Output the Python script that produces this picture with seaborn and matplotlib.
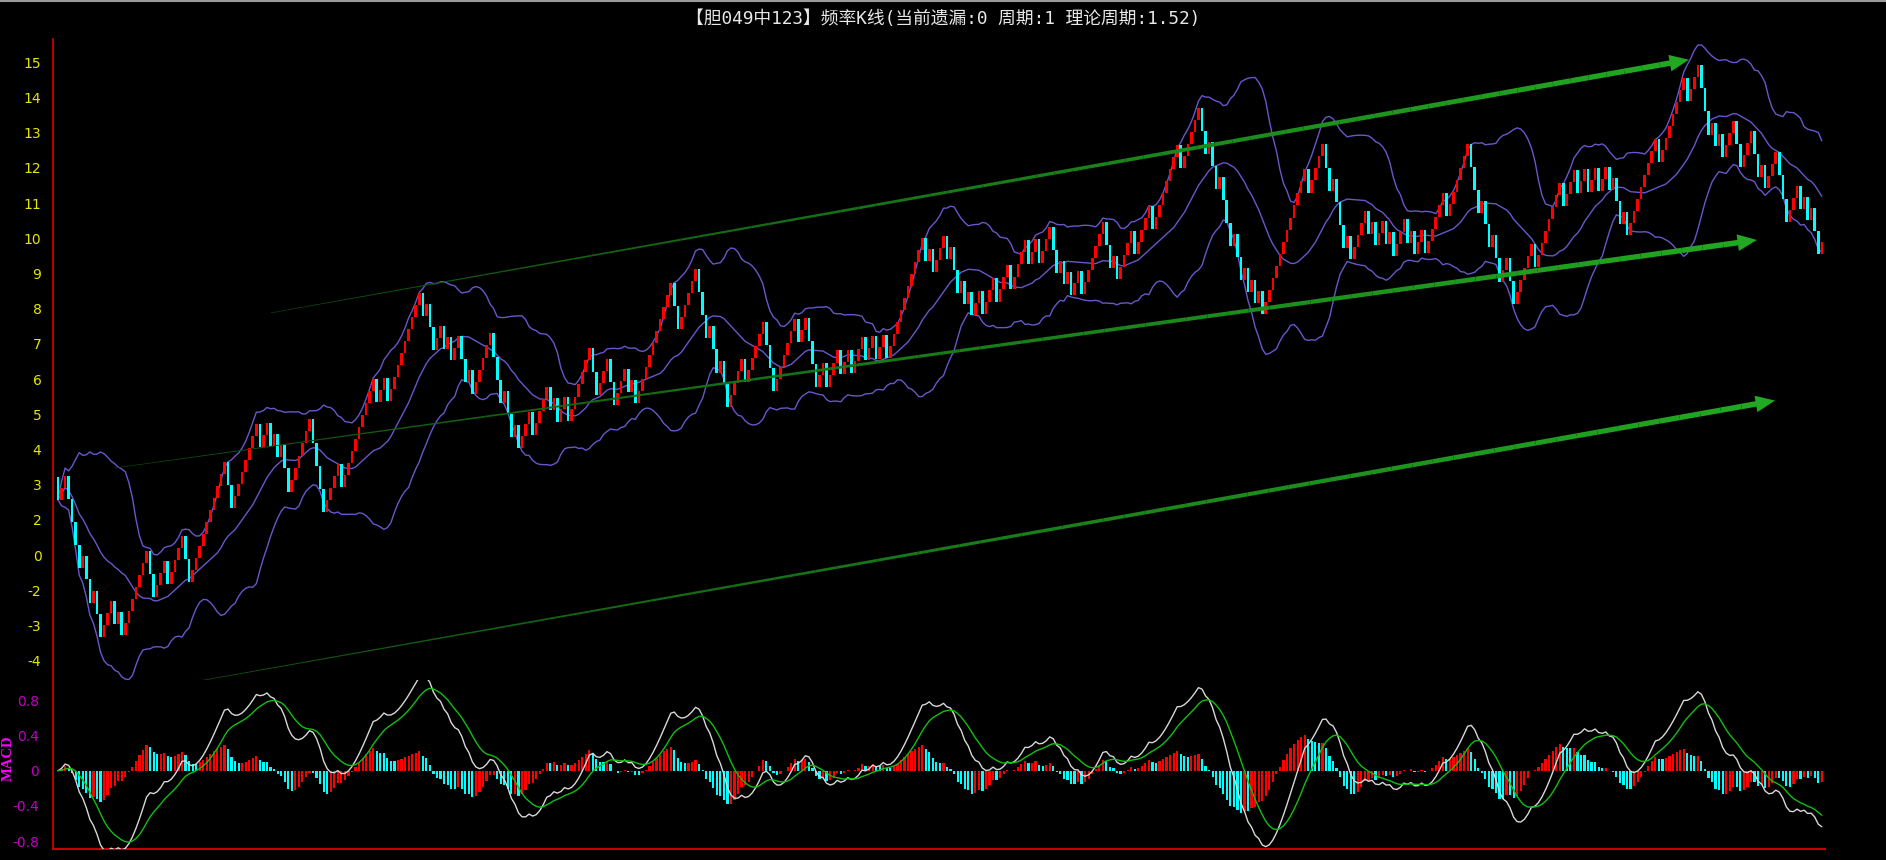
import numpy as np
import pandas as pd
import seaborn as sns
import matplotlib.pyplot as plt
from matplotlib.collections import LineCollection
from matplotlib.lines import Line2D
from matplotlib.ticker import FixedLocator

sns.set_style('dark')
plt.rcParams['font.family'] = ['Noto Sans CJK SC', 'DejaVu Sans']

title = '【胆049中123】频率K线(当前遗漏:0 周期:1 理论周期:1.52)'

# one char per K bar: u = hit (red, up), d = miss (cyan, down)
steps = [
    'duuddddudd' 'udduuudud' 'uuuuuuu',
    'dduuuduuuu' 'ddu' 'uuuuuuuuu' 'dd' 'uuuuu',
    'uuduudududd' 'uuuuuu' 'dddd' 'uuuu' 'd' 'uuuuuuuuu' 'd' 'uu' 'd' 'uu' 'uuuuuuu',
    'dudduudu' 'duuddud' 'uuuuu' 'ddduddud' 'uuuduuuu' 'duduud' 'uuuuuu'
    'dduuudduuududu' 'uuuuuuuuu' 'dd' 'uuuuu' 'ddduddudd' 'uuuu' 'd' 'uuuuu'
    'ddd' 'uuuuuu' 'duud',
    'dduuduuuduuduuuduuduuduu',
    'uuuuuuuu' 'duduuududd' 'ududuuduuuduuuduuuuduu' 'duuu' 'ddudud' 'uud'
    'uuuuuu' 'ddud' 'uuuu' 'd' 'uuuu' 'd' 'uuuuuuu' 'd' 'uuuuu' 'ddudduddd' 'uddududud',
    'uuuuuuuuuuuu' 'duuuu' 'ddudddud' 'uuuududuududuuududuuduu' 'uuud' 'uuuuuu'
    'ddduddudduuddu' 'uuuu' 'd' 'uuuuuuu' 'duuuduuduuduududduduuu',
    'uuuuu' 'd' 'uuuuuuu' 'd' 'uuu' 'ddd' 'u' 'd' 'u' 'd' 'uuu' 'dd' 'uuu' 'dd'
    'u' 'd' 'uuu' 'ddd' 'uuu' 'd' 'u' 'd' 'u' 'dd' 'u',
]
first_open = 3.23
up_step = 0.342
down_step = 0.658

# y axis labels (the software skips 1 and -1)
ytick_pos = list(range(-2, 16))
ytick_text = ['-4', '-3', '-2', '0'] + [str(v) for v in range(2, 16)]
macd_ticks = [0.8, 0.4, 0.0, -0.4, -0.8]
macd_text = ['0.8', '0.4', '0', '-0.4', '-0.8']

# trend arrows: (start bar, start value, end bar, end value)
arrows = [
    (60.1, 7.88, 460.5, 15.07),
    (15.8, 3.47, 479.7, 9.95),
    (22.3, -2.89, 484.8, 5.39),
]

# build the K bars
seq = np.array(list(''.join(steps)))
moves = np.where(seq == 'u', up_step, -down_step)
close = first_open + np.cumsum(moves)
opens = np.concatenate([[first_open], close[:-1]])
n = len(close)
df = pd.DataFrame({'x': np.arange(n), 'open': opens, 'close': close})

# bollinger bands
df['mid'] = df['close'].rolling(20, min_periods=1).mean()
sd = df['close'].rolling(20, min_periods=1).std(ddof=0)
df['upper'] = df['mid'] + 2 * sd
df['lower'] = df['mid'] - 2 * sd

# macd
ema12 = df['close'].ewm(span=12, adjust=False).mean()
ema26 = df['close'].ewm(span=26, adjust=False).mean()
df['dif'] = ema12 - ema26
df['dea'] = df['dif'].ewm(span=9, adjust=False).mean()
df['hist'] = df['dif'] - df['dea']
rising = df['hist'].diff().fillna(0) >= 0

W, H = 1886, 860
fig = plt.figure(figsize=(W / 100, H / 100), dpi=100, facecolor='black')
left = 52.7 / W
width = 1825 / W - left
ax = fig.add_axes([left, 1 - 680 / H, width, (680 - 39.3) / H])
ax2 = fig.add_axes([left, 1 - 849.3 / H, width, (849.3 - 680) / H])

for a in (ax, ax2):
    a.set_facecolor('black')
    a.grid(False)
    for s in a.spines.values():
        s.set_visible(False)
    a.spines['left'].set_visible(True)
    a.spines['left'].set_color('#c80000')
    a.spines['left'].set_linewidth(1.3)
    a.set_xlim(-1.5, n - 0.1)
    a.set_xticks([])

# candles
up = df['close'] >= df['open']
ax.bar(df['x'], df['close'] - df['open'], bottom=df['open'], width=0.74,
       color=np.where(up, '#ff0000', '#00ffff'), linewidth=0, zorder=3)

band_color = '#6658cc'
for col in ['upper', 'mid', 'lower']:
    sns.lineplot(data=df, x='x', y=col, ax=ax, color=band_color, linewidth=1.0,
                 legend=False, zorder=2)

# tapered green arrows
for x0, y0, x1, y1 in arrows:
    t = np.linspace(0, 0.992, 80)
    pts = np.column_stack([x0 + (x1 - x0) * t, y0 + (y1 - y0) * t])
    segs = np.stack([pts[:-1], pts[1:]], axis=1)
    k = np.linspace(0, 1, len(segs))
    lw = 0.4 + 3.6 * k
    cols = [(0.06 + 0.07 * v, 0.30 + 0.36 * v, 0.06 + 0.07 * v) for v in k]
    lc = LineCollection(segs, linewidths=lw, colors=cols, capstyle='butt', zorder=4)
    ax.add_collection(lc)
    ax.annotate('', xy=(x1, y1), xytext=(pts[-4, 0], pts[-4, 1]),
                arrowprops=dict(arrowstyle='-|>,head_length=1.4,head_width=0.6',
                                fc='#22a822', ec='#22a822', lw=0,
                                shrinkA=0, shrinkB=0), zorder=5)

ax.set_ylim(-2.548, 15.65)
ax.set_yticks(ytick_pos)
ax.set_yticklabels(ytick_text)
ax.yaxis.set_minor_locator(FixedLocator(np.arange(-1.5, 16, 1.0)))
ax.tick_params(axis='y', which='major', colors='#e6e600', length=3.6, width=1.2,
               labelsize=10, pad=4.5)
ax.tick_params(axis='y', which='minor', colors='#c8c800', length=2.6, width=1.2)
for lab in ax.get_yticklabels():
    lab.set_family(['Liberation Sans Narrow', 'DejaVu Sans'])
ax.set_xlabel('')
ax.set_ylabel('')

# macd panel
ax2.bar(df['x'], df['hist'], width=0.62,
        color=np.where(rising, '#ff0000', '#00ffff'), linewidth=0, zorder=2)
sns.lineplot(data=df, x='x', y='dif', ax=ax2, color='#d8d8d8', linewidth=1.0,
             legend=False, zorder=3)
sns.lineplot(data=df, x='x', y='dea', ax=ax2, color='#10c010', linewidth=1.0,
             legend=False, zorder=3)
ax2.spines['bottom'].set_visible(True)
ax2.spines['bottom'].set_color('#c80000')
ax2.spines['bottom'].set_linewidth(1.5)
ax2.set_ylim(-0.893, 1.031)
ax2.set_yticks(macd_ticks)
ax2.set_yticklabels(macd_text)
ax2.yaxis.set_minor_locator(FixedLocator([1.0, 0.6, 0.2, -0.2, -0.6]))
ax2.tick_params(axis='y', which='major', colors='#c000c0', length=3.6, width=1.2,
                labelsize=10, pad=6)
ax2.tick_params(axis='y', which='minor', colors='#a000a0', length=2.6, width=1.2)
for lab in ax2.get_yticklabels():
    lab.set_family(['Liberation Sans Narrow', 'DejaVu Sans'])
ax2.set_xlabel('')
ax2.set_ylabel('')

fig.text(8 / W, 1 - 758 / H, 'MACD', rotation=90, color='#ff00ff', fontsize=10.5,
         fontweight='bold', family=['Liberation Serif', 'DejaVu Serif'],
         ha='center', va='center')
fig.text(943 / W, 1 - 19.3 / H, title, color='#e8e8e8', fontsize=12.8,
         ha='center', va='center', family=['DejaVu Sans Mono', 'Noto Sans CJK SC'])
fig.add_artist(Line2D([0, 1], [1 - 1 / H, 1 - 1 / H], color='#9a9a9a', lw=1.5))

fig.savefig('out.png', dpi=100, facecolor='black')
